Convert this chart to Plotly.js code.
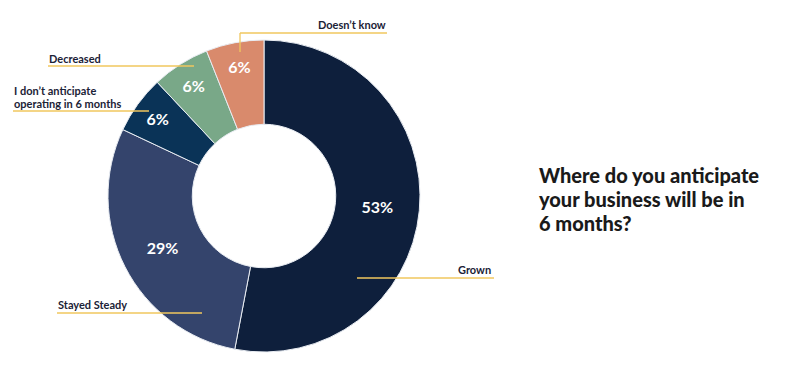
<!DOCTYPE html>
<html>
<head>
<meta charset="utf-8">
<script src="https://cdn.plot.ly/plotly-3.0.1.min.js"></script>
<style>html,body{margin:0;padding:0;background:#fff;}#chart{width:800px;height:373px;}</style>
</head>
<body>
<div id="chart"></div>
<script>
// ---- data ----
const categories = ["Grown", "Stayed Steady", "I don't anticipate operating in 6 months", "Decreased", "Doesn't know"];
const values = [53, 29, 6, 6, 6];
const labelLines = [["Grown"], ["Stayed Steady"], ["I don’t anticipate", "operating in 6 months"], ["Decreased"], ["Doesn’t know"]];
const colors = ["#0e1f3c", "#34446c", "#0a3357", "#79a888", "#d98a6c"];
const titleLines = ["Where do you anticipate", "your business will be in", "6 months?"];

const W = 800, H = 373;
const px = x => x / W;
const py = y => 1 - y / H;

// leader-line layout (pixel positions of callouts)
const callouts = [
  {tx: 492, ty: 269, anchor: "right", line: [[357,278],[494,278]]},
  {tx: 57, ty: 304, anchor: "left", line: [[57,313],[202,313]]},
  {tx: 13, ty: 91, anchor: "left", line: [[13,111],[149,111]]},
  {tx: 48, ty: 58, anchor: "left", line: [[48,66],[194,66]]},
  {tx: 387, ty: 24, anchor: "right", line: [[240,52],[240,33],[387,33]]}
];

const lineColor = "#f0c75e";
const shapes = [];
const annotations = [];
const fam = "Lato, 'Open Sans', sans-serif";
callouts.forEach((c, k) => {
  for (let i = 0; i < c.line.length - 1; i++) {
    shapes.push({type: "line", xref: "paper", yref: "paper",
      x0: px(c.line[i][0]), y0: py(c.line[i][1]), x1: px(c.line[i+1][0]), y1: py(c.line[i+1][1]),
      line: {color: lineColor, width: 1.3}, layer: "above"});
  }
  labelLines[k].forEach((t, j) => {
    annotations.push({xref: "paper", yref: "paper", x: px(c.tx), y: py(c.ty + j * 12.5),
      xanchor: c.anchor, yanchor: "middle", align: "left", showarrow: false, text: t, borderpad: 0,
      font: {family: fam, size: 11, color: "#1b2236", weight: 700}});
  });
});
titleLines.forEach((t, j) => {
  annotations.push({xref: "paper", yref: "paper", x: px(538), y: py(175 + j * 24), xanchor: "left", yanchor: "middle",
    align: "left", showarrow: false, text: t, borderpad: 0,
    font: {family: fam, size: 20, color: "#1a1a1a", weight: 900}});
});

const trace = {
  type: "pie",
  labels: categories,
  values: values,
  sort: false,
  direction: "clockwise",
  rotation: 0,
  hole: 0.46,
  marker: {colors: colors, line: {color: "#e8ecf2", width: 1}},
  texttemplate: "%{value}%",
  textposition: "inside",
  insidetextorientation: "horizontal",
  textfont: {family: fam, size: 16, color: "#ffffff", weight: 700},
  hoverinfo: "none",
  showlegend: false,
  domain: {x: [px(108), px(420)], y: [py(352), py(40)]}
};

Plotly.newPlot("chart", [trace], {
  width: W, height: H,
  margin: {l: 0, r: 0, t: 0, b: 0},
  paper_bgcolor: "#ffffff",
  showlegend: false,
  shapes: shapes,
  annotations: annotations
}, {displayModeBar: false, staticPlot: true});
</script>
</body>
</html>
